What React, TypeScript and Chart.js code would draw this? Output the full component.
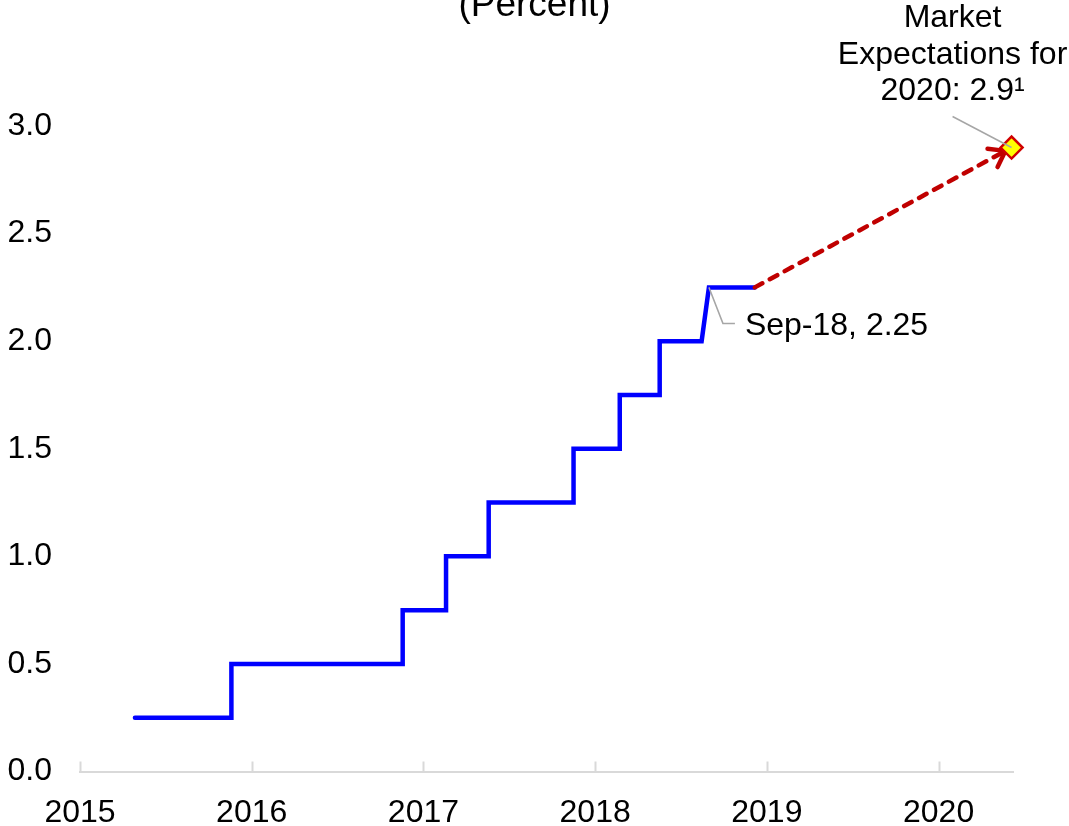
import React, { useEffect, useRef } from 'react';
import { Chart, registerables } from 'chart.js';

Chart.register(...registerables);

// x values are months since Jan 2015
const yearLabels = ['2015', '2016', '2017', '2018', '2019', '2020'];
const yearTickMonths = [0, 12, 24, 36, 48, 60];
const yTickValues = [0, 0.5, 1, 1.5, 2, 2.5, 3];

const rateMonths = [
  3.84, 10.58, 10.58, 22.55, 22.55, 25.58, 25.58, 28.56, 28.56,
  34.49, 34.49, 37.72, 37.72, 40.51, 40.51, 43.44, 43.95, 47.16,
];
const rateValues = [
  0.25, 0.25, 0.5, 0.5, 0.75, 0.75, 1.0, 1.0, 1.25,
  1.25, 1.5, 1.5, 1.75, 1.75, 2.0, 2.0, 2.25, 2.25,
];

const expectationMonths = [47.16, 65.1];
const expectationValues = [2.25, 2.9];

const markerMonths = [65.1];
const markerValues = [2.9];

const unitLabel = '(Percent)';
const sepLabel = 'Sep-18, 2.25';
const sepPointIndex = 16;
const marketLines = ['Market', 'Expectations for', '2020: 2.9\u00B9'];

const FONT = '"Liberation Sans", Arial, Helvetica, sans-serif';

const annotationPlugin = {
  id: 'annotations',
  afterDatasetDraw(chart: any, args: any) {
    if (args.index !== 1) return;
    const meta = chart.getDatasetMeta(1);
    const p0 = meta.data[0];
    const p1 = meta.data[1];
    const ang = Math.atan2(p1.y - p0.y, p1.x - p0.x);
    const tipX = p1.x - 7 * Math.cos(ang);
    const tipY = p1.y - 7 * Math.sin(ang);
    const ctx = chart.ctx;
    ctx.save();
    ctx.strokeStyle = '#C00000';
    ctx.lineWidth = 4.5;
    ctx.lineCap = 'round';
    ctx.setLineDash([]);
    for (const s of [1, -1]) {
      const a = ang + Math.PI + s * 0.62;
      ctx.beginPath();
      ctx.moveTo(tipX, tipY);
      ctx.lineTo(tipX + 18 * Math.cos(a), tipY + 18 * Math.sin(a));
      ctx.stroke();
    }
    ctx.restore();
  },
  afterDraw(chart: any) {
    const ctx = chart.ctx;
    const xs = chart.scales.x;
    const bottom = chart.chartArea.bottom;
    ctx.save();
    // axis tick marks (inside)
    ctx.strokeStyle = '#D9D9D9';
    ctx.lineWidth = 2;
    for (const m of yearTickMonths) {
      const x = Math.round(xs.getPixelForValue(m)) + 0.5;
      ctx.beginPath();
      ctx.moveTo(x, bottom - 10);
      ctx.lineTo(x, bottom);
      ctx.stroke();
    }
    // Sep-18 leader + label
    const corner = chart.getDatasetMeta(2).data[sepPointIndex];
    ctx.strokeStyle = '#A6A6A6';
    ctx.lineWidth = 1.5;
    ctx.beginPath();
    ctx.moveTo(corner.x, corner.y);
    ctx.lineTo(corner.x + 14, corner.y + 36);
    ctx.lineTo(corner.x + 26, corner.y + 36);
    ctx.stroke();
    ctx.fillStyle = '#000000';
    ctx.font = `32px ${FONT}`;
    ctx.textAlign = 'left';
    ctx.textBaseline = 'alphabetic';
    ctx.fillText(sepLabel, corner.x + 36, corner.y + 47.5);
    // market expectation leader + label
    const mk = chart.getDatasetMeta(0).data[0];
    ctx.beginPath();
    ctx.moveTo(mk.x - 59, mk.y - 31);
    ctx.lineTo(mk.x, mk.y);
    ctx.stroke();
    ctx.textAlign = 'center';
    const baselines = [-120.5, -84, -47.5];
    marketLines.forEach((t, i) => {
      ctx.fillText(t, mk.x - 59, mk.y + baselines[i]);
    });
    // unit label, cut at top
    ctx.font = `37px ${FONT}`;
    ctx.fillText(unitLabel, chart.width / 2, 16);
    ctx.restore();
  },
};

export default function App() {
  const ref = useRef<HTMLCanvasElement | null>(null);
  useEffect(() => {
    if (!ref.current) return;
    const chart = new Chart(ref.current, {
      type: 'line',
      data: {
        datasets: [
          {
            label: 'Market expectation',
            data: markerMonths.map((x, i) => ({ x, y: markerValues[i] })),
            showLine: false,
            pointStyle: 'rectRot',
            pointRadius: 11,
            pointBackgroundColor: '#FFFF00',
            pointBorderColor: '#D00000',
            pointBorderWidth: 2.5,
            clip: false as any,
          },
          {
            label: 'Expected path',
            data: expectationMonths.map((x, i) => ({ x, y: expectationValues[i] })),
            borderColor: '#C00000',
            borderWidth: 4.5,
            borderDash: [8.5, 8.5],
            borderCapStyle: 'round',
            pointRadius: 0,
            tension: 0,
          },
          {
            label: 'Federal funds rate',
            data: rateMonths.map((x, i) => ({ x, y: rateValues[i] })),
            borderColor: '#0000FF',
            borderWidth: 4.5,
            borderCapStyle: 'round',
            borderJoinStyle: 'miter',
            pointRadius: 0,
            tension: 0,
          },
        ],
      },
      options: {
        animation: false,
        responsive: true,
        maintainAspectRatio: false,
        layout: { padding: { top: 126, right: 56, left: 0, bottom: 0 } },
        plugins: {
          legend: { display: false },
          tooltip: { enabled: false },
          title: { display: false },
        },
        scales: {
          x: {
            type: 'linear',
            min: 0,
            max: 65.2,
            afterFit: (s: any) => {
              s.height = 54.5;
            },
            afterBuildTicks: (s: any) => {
              s.ticks = yearTickMonths.map((v) => ({ value: v }));
            },
            grid: { display: false, drawTicks: false },
            border: { display: true, color: '#D9D9D9', width: 2 },
            ticks: {
              padding: 22,
              color: '#000000',
              font: { family: FONT, size: 32 },
              maxRotation: 0,
              autoSkip: false,
              callback: (v: any) => yearLabels[yearTickMonths.indexOf(Number(v))] ?? '',
            },
          },
          y: {
            type: 'linear',
            min: 0,
            max: 3,
            afterFit: (s: any) => {
              s.width = 80;
            },
            afterBuildTicks: (s: any) => {
              s.ticks = yTickValues.map((v) => ({ value: v }));
            },
            grid: { display: false, drawTicks: false },
            border: { display: false },
            ticks: {
              padding: 28,
              color: '#000000',
              font: { family: FONT, size: 32 },
              callback: (v: any) => Number(v).toFixed(1),
            },
          },
        },
      },
      plugins: [annotationPlugin],
    });
    return () => chart.destroy();
  }, []);
  return (
    <div style={{ width: 1069, height: 826, position: 'relative', overflow: 'hidden' }}>
      <style>{'html,body{margin:0;padding:0;overflow:hidden;background:#fff;}'}</style>
      <canvas ref={ref} />
    </div>
  );
}
